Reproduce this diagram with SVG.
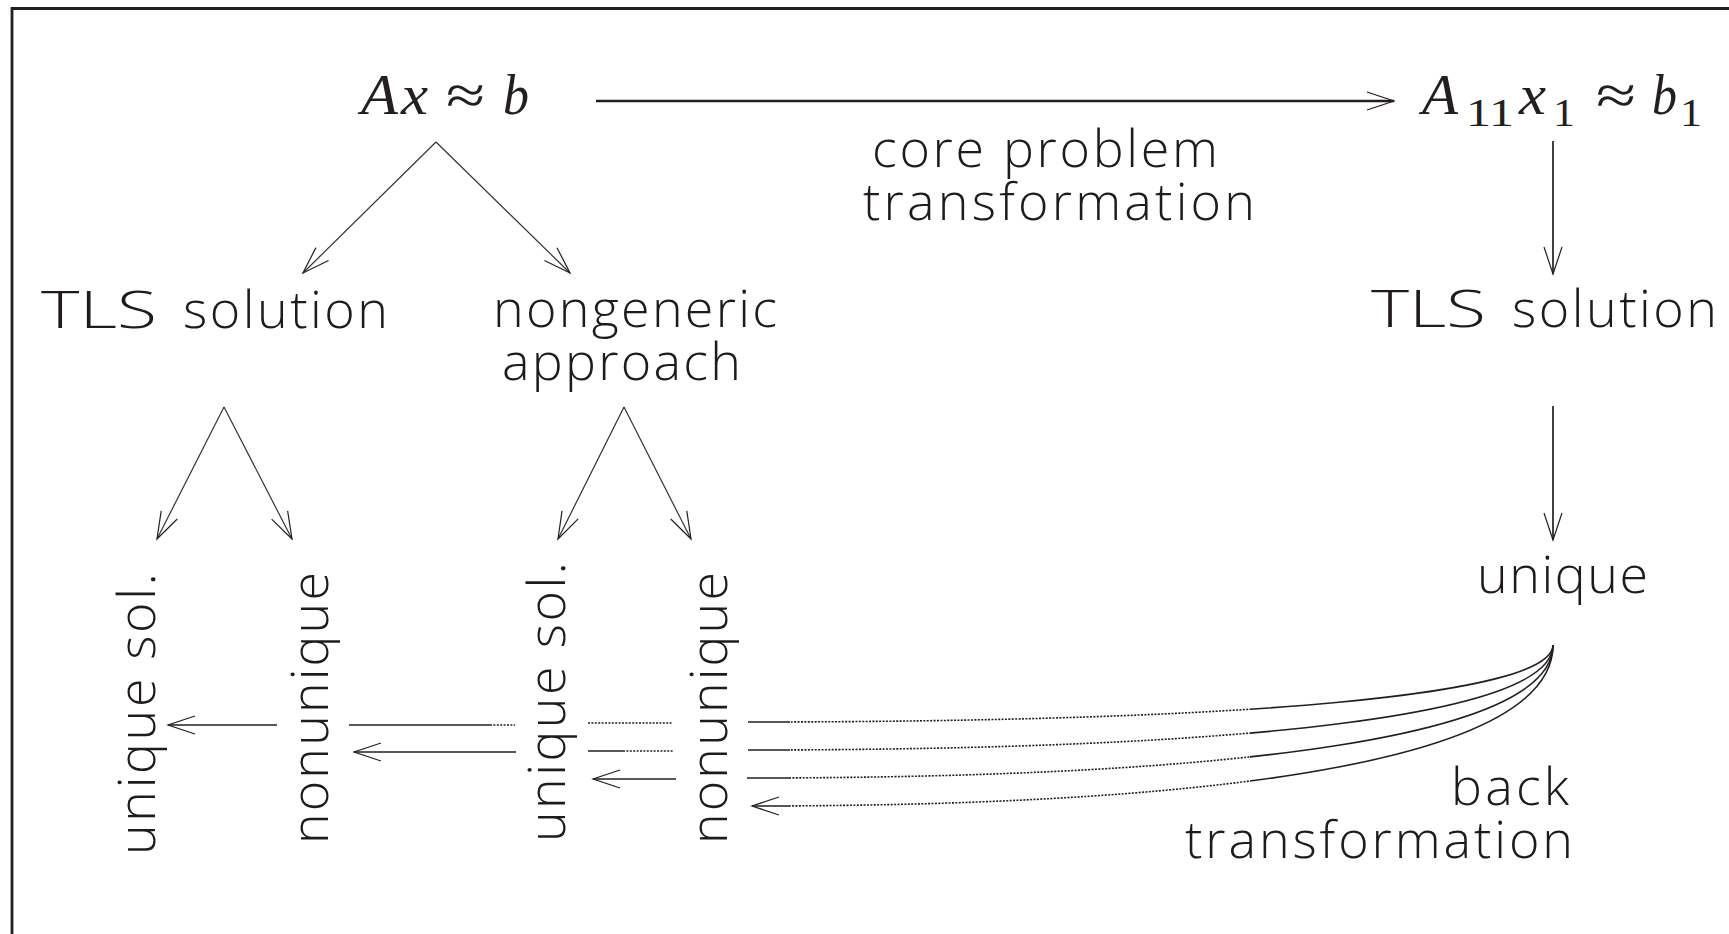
<svg xmlns="http://www.w3.org/2000/svg" width="1729" height="934" viewBox="0 0 1729 934">
<style>
.t{font-family:"Open Sans","DejaVu Sans",sans-serif;font-weight:300;font-size:52px;fill:#1f1b1c}
.m{font-family:"Liberation Serif","DejaVu Serif",serif;font-style:italic;font-size:56px;fill:#231f20}
.r{font-family:"Liberation Serif","DejaVu Serif",serif;font-size:56px;fill:#231f20}
.s{font-family:"Liberation Serif","DejaVu Serif",serif;font-size:41px;fill:#231f20}
.thin{fill:none;stroke:#333;stroke-width:1.2}
.mid{fill:none;stroke:#231f20;stroke-width:1.7}
.thick{fill:none;stroke:#231f20;stroke-width:2.4}
.cv{fill:none;stroke:#231f20;stroke-width:1.6}
.dot{fill:none;stroke:#231f20;stroke-width:1.6;stroke-dasharray:2 1.4}
</style>
<defs>
<marker id="ah" markerUnits="userSpaceOnUse" orient="auto" refX="0" refY="0" markerWidth="30" markerHeight="20" overflow="visible">
<path d="M -27 -9 L 0 0 L -27 9" fill="none" stroke="#231f20" stroke-width="1.2"/>
</marker>
<clipPath id="clipSolid"><rect x="0" y="600" width="790" height="300"/><rect x="1250" y="600" width="479" height="300"/></clipPath>
<clipPath id="clipDot"><rect x="790" y="600" width="460" height="300"/></clipPath>
</defs>

<path d="M 12 934 L 12 8.5 L 1729 8.5" fill="none" stroke="#231f20" stroke-width="2.8"/>

<g id="n-axb">
<text class="m" x="361" y="114" textLength="37" lengthAdjust="spacingAndGlyphs">A</text>
<text class="m" x="401" y="114" textLength="27" lengthAdjust="spacingAndGlyphs">x</text>
<text class="r" x="446" y="114" textLength="39" lengthAdjust="spacingAndGlyphs">≈</text>
<text class="m" x="503" y="114" textLength="26" lengthAdjust="spacingAndGlyphs">b</text>
</g>

<g id="n-a11">
<text class="m" x="1422" y="114" textLength="36" lengthAdjust="spacingAndGlyphs">A</text>
<text class="s" x="1466" y="126" textLength="48" lengthAdjust="spacingAndGlyphs">11</text>
<text class="m" x="1519" y="114" textLength="27" lengthAdjust="spacingAndGlyphs">x</text>
<text class="s" x="1553" y="126" textLength="22" lengthAdjust="spacingAndGlyphs">1</text>
<text class="r" x="1596" y="114" textLength="40" lengthAdjust="spacingAndGlyphs">≈</text>
<text class="m" x="1652" y="114" textLength="25" lengthAdjust="spacingAndGlyphs">b</text>
<text class="s" x="1680" y="126" textLength="22" lengthAdjust="spacingAndGlyphs">1</text>
</g>

<g id="lbl-core">
<text class="t"><tspan x="872" y="167" textLength="346" lengthAdjust="spacing">core problem</tspan><tspan x="863" y="220" textLength="392" lengthAdjust="spacing">transformation</tspan></text>
</g>

<g id="n-tls-left">
<text class="t" y="328"><tspan x="41" textLength="116" lengthAdjust="spacingAndGlyphs">TLS</tspan> <tspan x="183" textLength="205" lengthAdjust="spacing">solution</tspan></text>
</g>

<g id="n-nongeneric">
<text class="t"><tspan x="493" y="327" textLength="284" lengthAdjust="spacing">nongeneric</tspan><tspan x="502" y="380" textLength="239" lengthAdjust="spacing">approach</tspan></text>
</g>

<g id="n-tls-right">
<text class="t" y="327"><tspan x="1371" textLength="115" lengthAdjust="spacingAndGlyphs">TLS</tspan> <tspan x="1512" textLength="205" lengthAdjust="spacing">solution</tspan></text>
</g>

<g id="n-unique">
<text class="t" x="1477" y="593" textLength="171" lengthAdjust="spacing">unique</text>
</g>

<g id="lbl-back">
<text class="t"><tspan x="1451" y="805" textLength="118" lengthAdjust="spacing">back</tspan><tspan x="1185" y="858" textLength="388" lengthAdjust="spacing">transformation</tspan></text>
</g>

<g id="n-uniq1">
<text class="t" transform="translate(155 855) rotate(-90)" textLength="282" lengthAdjust="spacing">unique sol.</text>
</g>
<g id="n-nonuniq1">
<text class="t" transform="translate(328 844) rotate(-90)" textLength="272" lengthAdjust="spacing">nonunique</text>
</g>
<g id="n-uniq2">
<text class="t" transform="translate(565 842) rotate(-90)" textLength="280" lengthAdjust="spacing">unique sol.</text>
</g>
<g id="n-nonuniq2">
<text class="t" transform="translate(727 844) rotate(-90)" textLength="272" lengthAdjust="spacing">nonunique</text>
</g>

<g id="connectors">
<path class="thick" d="M 596 101 L 1394 101" marker-end="url(#ah)"/>
<path class="mid" d="M 1553 141 L 1553 274" marker-end="url(#ah)"/>
<path class="mid" d="M 1553 406 L 1553 540" marker-end="url(#ah)"/>

<path class="thin" d="M 436 142 L 303 273" marker-end="url(#ah)"/>
<path class="thin" d="M 436 142 L 570 273" marker-end="url(#ah)"/>
<path class="thin" d="M 224 407 L 157 539" marker-end="url(#ah)"/>
<path class="thin" d="M 224 407 L 292 539" marker-end="url(#ah)"/>
<path class="thin" d="M 624 407 L 558 539" marker-end="url(#ah)"/>
<path class="thin" d="M 624 407 L 691 539" marker-end="url(#ah)"/>

<path class="cv" clip-path="url(#clipSolid)" d="M 1553 645 C 1553 695 1250 722 748 722"/>
<path class="dot" clip-path="url(#clipDot)" d="M 1553 645 C 1553 695 1250 722 748 722"/>
<path class="cv" clip-path="url(#clipSolid)" d="M 1553 645 C 1553 715 1250 750 748 750"/>
<path class="dot" clip-path="url(#clipDot)" d="M 1553 645 C 1553 715 1250 750 748 750"/>
<path class="cv" clip-path="url(#clipSolid)" d="M 1553 645 C 1553 735 1250 778 747 778"/>
<path class="dot" clip-path="url(#clipDot)" d="M 1553 645 C 1553 735 1250 778 747 778"/>
<path class="cv" clip-path="url(#clipSolid)" d="M 1553 645 C 1553 755 1252 806 752 806" marker-end="url(#ah)"/>
<path class="dot" clip-path="url(#clipDot)" d="M 1553 645 C 1553 755 1252 806 752 806"/>

<path class="dot" d="M 588 723 L 673 723"/>
<path class="cv" d="M 349 725 L 490 725"/>
<path class="dot" d="M 490 725 L 515 725"/>
<path class="cv" d="M 277 725 L 168 725" marker-end="url(#ah)"/>

<path class="cv" d="M 588 751 L 623 751"/>
<path class="dot" d="M 623 751 L 673 751"/>
<path class="cv" d="M 516 752 L 354 752" marker-end="url(#ah)"/>

<path class="cv" d="M 676 779 L 593 779" marker-end="url(#ah)"/>
</g>
</svg>
